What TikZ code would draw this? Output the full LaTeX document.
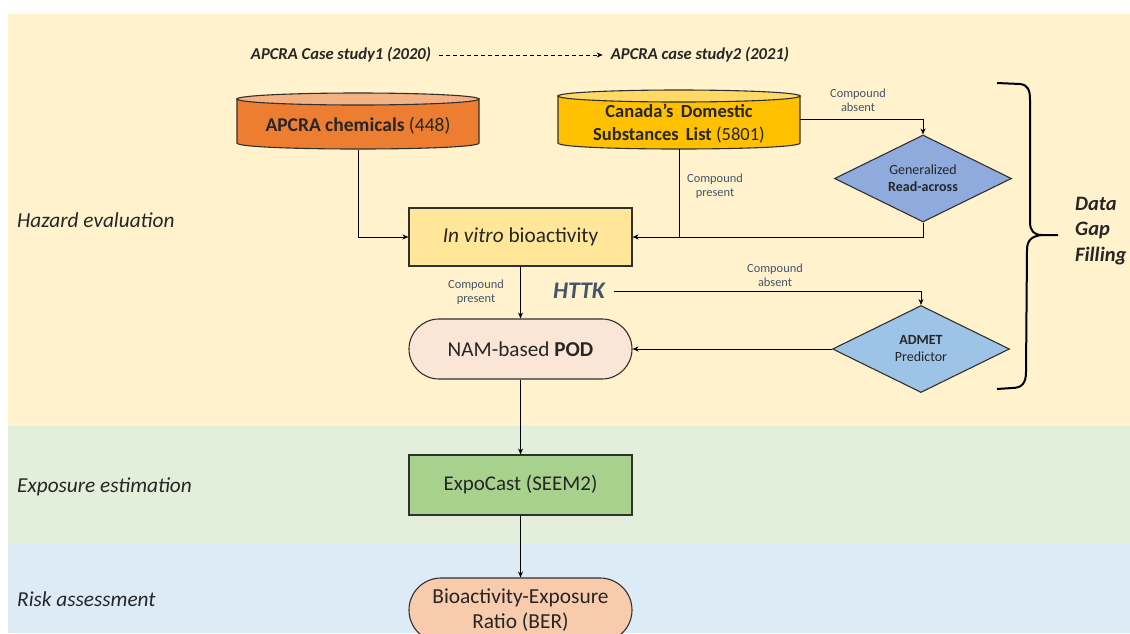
\documentclass[tikz,border=0pt]{standalone}
\usepackage{fontspec}
\setmainfont{Carlito}
\usetikzlibrary{shapes.geometric,shapes.misc,arrows.meta}
\definecolor{bandY}{HTML}{FFF2CC}
\definecolor{bandG}{HTML}{E2EFDA}
\definecolor{bandB}{HTML}{DDEBF7}
\definecolor{apBody}{HTML}{ED7D31}
\definecolor{apTop}{HTML}{F4B183}
\definecolor{caBody}{HTML}{FFC000}
\definecolor{caTop}{HTML}{FFD966}
\definecolor{ivFill}{HTML}{FFE699}
\definecolor{namFill}{HTML}{FBE5D6}
\definecolor{graFill}{HTML}{8FAADC}
\definecolor{admFill}{HTML}{9DC3E6}
\definecolor{expFill}{HTML}{A9D18E}
\definecolor{berFill}{HTML}{F8CBAD}
\definecolor{txt}{HTML}{262626}
\definecolor{slate}{HTML}{44546A}
\definecolor{edge}{HTML}{303030}
\tikzset{
  arr/.style={draw=black, line width=0.9pt, -{Stealth[length=6pt,width=5pt]}},
  conn/.style={draw=black, line width=0.9pt},
  boxstyle/.style={draw=edge, line width=1.1pt, text=txt, inner sep=0pt, align=center},
  pill/.style={boxstyle, rounded rectangle, minimum width=223pt, minimum height=60pt},
  dia/.style={boxstyle, diamond, aspect=2.03, minimum width=177pt, minimum height=87pt},
  small/.style={font=\fontsize{12.4}{14.5}\selectfont, text=slate, align=center, inner sep=0pt},
  phase/.style={font=\fontsize{21.3}{24}\selectfont\itshape, text=txt, anchor=west, inner sep=0pt},
  cylnode/.style={inner sep=0pt, minimum width=242pt, minimum height=59pt, align=center, text=txt}
}
\begin{document}
\begin{tikzpicture}[x=1pt,y=-1pt]
\useasboundingbox (0,0) rectangle (1130,633);
\clip (0,0) rectangle (1130,633);
\fill[white] (0,0) rectangle (1130,633);
% bands
\fill[bandY] (8,14) rectangle (1130,426);
\fill[bandG] (8,426) rectangle (1130,543);
\fill[bandB] (8,543) rectangle (1130,633);
% phase labels
\node[phase] (hz) at (17,220) {Hazard evaluation};
\node[phase] (ex) at (17,487) {Exposure estimation};
\node[phase] (ra) at (17,599) {Risk assessment};
% top labels
\node[font=\fontsize{16.6}{19}\selectfont\bfseries\itshape, text=txt, inner sep=0pt] (cs1) at (341,55) {APCRA Case study1 (2020)};
\node[font=\fontsize{16.6}{19}\selectfont\bfseries\itshape, text=txt, inner sep=0pt] (cs2) at (700,55) {APCRA case study2 (2021)};
\draw[arr, dash pattern=on 4pt off 3pt] ([xshift=8pt]cs1.east) -- ([xshift=-8pt]cs2.west);
% APCRA cylinder
\path[fill=apBody, draw=edge, line width=1.1pt] (237,99) -- (237,143) .. controls (237,151) and (479,151) .. (479,143) -- (479,99) -- cycle;
\path[fill=apTop, draw=edge, line width=1.1pt] (358,99) ellipse [x radius=121, y radius=6];
\node[cylnode] (apcra) at (358,120) {};
\node[font=\fontsize{19.5}{23}\selectfont, text=txt, inner sep=0pt] at (358,126) {\textbf{APCRA chemicals} (448)};
% Canada cylinder
\path[fill=caBody, draw=edge, line width=1.1pt] (558,96) -- (558,143) .. controls (558,151) and (800,151) .. (800,143) -- (800,96) -- cycle;
\path[fill=caTop, draw=edge, line width=1.1pt] (679,96) ellipse [x radius=121, y radius=6];
\node[cylnode] (canada) at (679,119.5) {};
\node[font=\fontsize{18.5}{23}\selectfont, text=txt, inner sep=0pt, align=center] at (679,124) {\textbf{Canada's\, Domestic}\\\textbf{Substances\, List} (5801)};
% In vitro
\node[boxstyle, fill=ivFill, minimum width=223pt, minimum height=58pt, font=\fontsize{21.3}{24}\selectfont] (invitro) at (520.5,237) {\textit{In vitro} bioactivity};
% diamonds
\node[dia, fill=graFill, font=\fontsize{14}{17}\selectfont] (gra) at (923,178.5) {Generalized\\\textbf{Read-across}};
\node[dia, fill=admFill, font=\fontsize{14}{17}\selectfont] (admet) at (921,349) {\textbf{ADMET}\\Predictor};
% NAM pill
\node[pill, fill=namFill, font=\fontsize{21.2}{24}\selectfont] (nam) at (520.5,349) {NAM-based \textbf{POD}};
% HTTK
\node[font=\fontsize{23.8}{26}\selectfont\bfseries\itshape, text=slate, inner sep=0pt] (httk) at (579,291) {HTTK};
% Expo
\node[boxstyle, fill=expFill, minimum width=223pt, minimum height=60pt, font=\fontsize{21}{24}\selectfont] (expo) at (520.5,485) {ExpoCast (SEEM2)};
% BER
\node[pill, fill=berFill, minimum height=64pt, font=\fontsize{21.4}{25}\selectfont] (ber) at (520.5,610) {Bioactivity-Exposure\\Ratio (BER)};
% small labels
\node[small] (l1) at (858,100) {Compound\\absent};
\node[small] (l2) at (715,186) {Compound\\present};
\node[small] (l3) at (476,292) {Compound\\present};
\node[small] (l4) at (775,275) {Compound\\absent};
% connectors
\draw[arr] (apcra.south) |- (invitro.west);
\draw[conn] (canada.south) -- (canada.south |- invitro.east);
\draw[arr] (gra.south) |- (invitro.east);
\draw[arr] (canada.east) -| (gra.north);
\draw[arr] (invitro.south) -- (nam.north);
\draw[arr] ([xshift=9pt]httk.east) -| (admet.north);
\draw[arr] (admet.west) -- (nam.east);
\draw[arr] (nam.south) -- (expo.north);
\draw[arr] (expo.south) -- (ber.north);
% brace
\draw[black, line width=2pt, line join=round]
  (997,83) -- (1020,84) .. controls (1028,85) and (1030,90) .. (1030,100)
  -- (1030,222) .. controls (1030,231) and (1034,235) .. (1042,235) -- (1058,235);
\draw[black, line width=2pt, line join=round]
  (1042,235) .. controls (1031,236) and (1027,241) .. (1027,250)
  -- (1026,372) .. controls (1026,383) and (1022,388) .. (1012,388) -- (997,389);
\node[font=\fontsize{20.5}{25.5}\selectfont\bfseries\itshape, text=txt, anchor=west, align=left, inner sep=0pt] (dgf) at (1075,231) {Data\\Gap\\Filling};
\end{tikzpicture}
\end{document}
